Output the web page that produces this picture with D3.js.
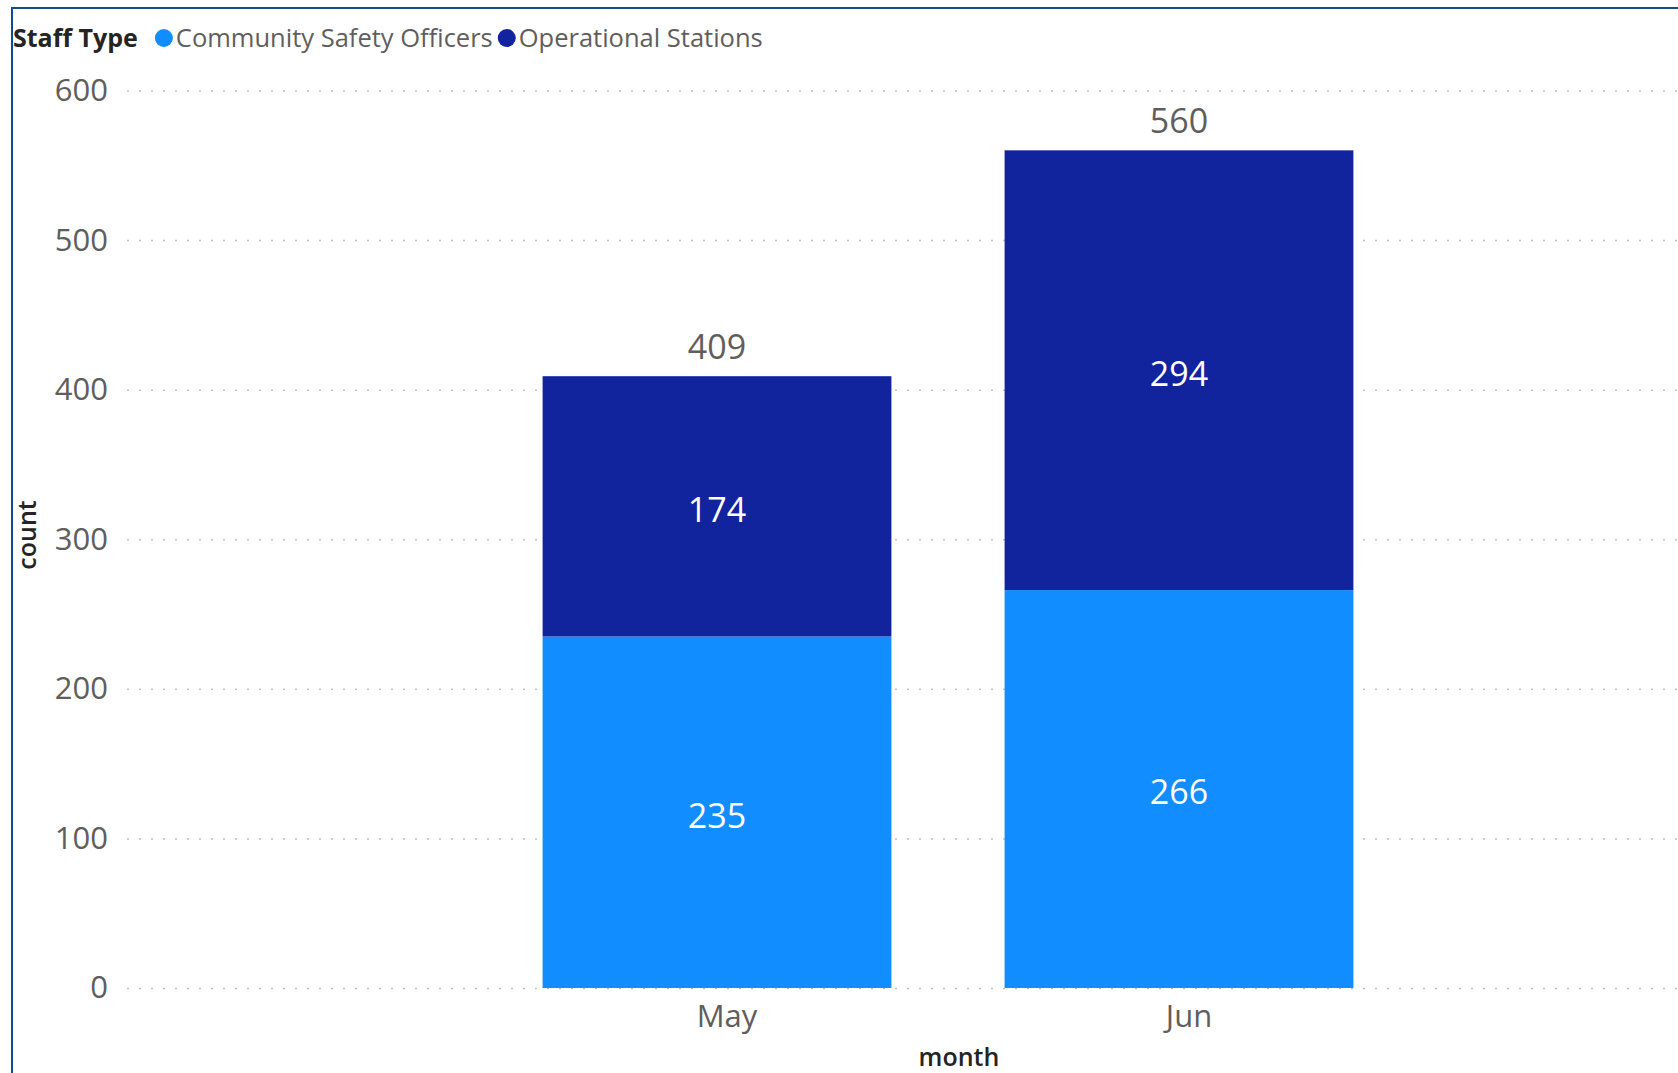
<!DOCTYPE html>
<html>
<head>
<meta charset="utf-8">
<script src="https://cdn.jsdelivr.net/npm/d3@7"></script>
<style>
  body { margin: 0; background: #fff; }
  text { font-family: 'Segoe UI', 'Open Sans', sans-serif; }
  .ejes .domain { display: none; }
  .ejes text { fill: #605e5c; font-size: 31px; }
</style>
</head>
<body>
<div id="graf"></div>
<script>
// datos
const months = ['May', 'Jun']
const staffTypes = ['Community Safety Officers', 'Operational Stations']
const csoCounts = [235, 266]
const opsCounts = [174, 294]
const yTicks = [0, 100, 200, 300, 400, 500, 600]
const colores = ['#118dff', '#12239e']

const anchoTotal = 1678
const altoTotal = 1073

const svg = d3.select('#graf')
  .append('svg')
  .attr('width', anchoTotal)
  .attr('height', altoTotal)

const margin = { top: 90.5, left: 127, right: 0, bottom: 85 }
const ancho = anchoTotal - margin.left - margin.right
const alto = altoTotal - margin.top - margin.bottom

// marco del visual
svg.append('path')
  .attr('d', `M12,${altoTotal} L12,8 L${anchoTotal},8`)
  .attr('fill', 'none')
  .attr('stroke', '#134c8b')
  .attr('stroke-width', 2)

const g = svg.append('g')
  .attr('transform', `translate(${margin.left}, ${margin.top})`)

const data = months.map((m, i) => ({
  month: m,
  [staffTypes[0]]: csoCounts[i],
  [staffTypes[1]]: opsCounts[i],
}))

const series = d3.stack().keys(staffTypes)(data)

const y = d3.scaleLinear()
  .domain([0, 600])
  .range([alto, 0])

const x = d3.scaleBand()
  .domain(months)
  .range([486 - margin.left, 1410 - margin.left])
  .paddingInner(0.245)
  .paddingOuter(0.1225)

const color = d3.scaleOrdinal()
  .domain(staffTypes)
  .range(colores)

// eje y con grilla punteada
const yAxisGroup = g.append('g')
  .attr('class', 'ejes')
  .call(
    d3.axisLeft(y)
      .tickValues(yTicks)
      .tickSize(-ancho)
      .tickPadding(19)
  )
yAxisGroup.selectAll('line')
  .attr('stroke', '#c0c0c0')
  .attr('stroke-width', 1.5)
  .attr('stroke-dasharray', '2,10')

// eje x
const xAxisGroup = g.append('g')
  .attr('class', 'ejes')
  .attr('transform', `translate(0, ${alto})`)
  .call(d3.axisBottom(x).tickSize(0).tickPadding(17))
xAxisGroup.selectAll('text')
  .attr('dx', 10)

// barras apiladas
const capas = g.selectAll('g.capa')
  .data(series)
  .enter()
  .append('g')
  .attr('class', 'capa')
  .attr('fill', d => color(d.key))

capas.selectAll('rect')
  .data(d => d)
  .enter()
  .append('rect')
  .attr('x', d => x(d.data.month))
  .attr('y', d => y(d[1]))
  .attr('width', x.bandwidth())
  .attr('height', d => y(d[0]) - y(d[1]))

capas.selectAll('text')
  .data(d => d)
  .enter()
  .append('text')
  .attr('x', d => x(d.data.month) + x.bandwidth() / 2)
  .attr('y', d => y((d[0] + d[1]) / 2))
  .attr('dy', '0.45em')
  .attr('text-anchor', 'middle')
  .attr('fill', '#fff')
  .attr('font-size', 34)
  .text(d => d[1] - d[0])

// totales
g.selectAll('text.total')
  .data(data)
  .enter()
  .append('text')
  .attr('class', 'total')
  .attr('x', d => x(d.month) + x.bandwidth() / 2)
  .attr('y', d => y(d[staffTypes[0]] + d[staffTypes[1]]) - 29)
  .attr('dy', '0.35em')
  .attr('text-anchor', 'middle')
  .attr('fill', '#605e5c')
  .attr('font-size', 34)
  .text(d => d[staffTypes[0]] + d[staffTypes[1]])

// titulos de ejes
svg.append('text')
  .attr('transform', 'translate(36, 535) rotate(-90)')
  .attr('text-anchor', 'middle')
  .attr('fill', '#252423')
  .attr('font-size', 25)
  .attr('font-weight', 600)
  .text('count')

svg.append('text')
  .attr('x', 959)
  .attr('y', 1066)
  .attr('text-anchor', 'middle')
  .attr('fill', '#252423')
  .attr('font-size', 25)
  .attr('font-weight', 600)
  .text('month')

// leyenda
const leyenda = svg.append('g')
  .attr('transform', 'translate(13, 38)')

const titulo = leyenda.append('text')
  .attr('dy', '0.35em')
  .attr('fill', '#252423')
  .attr('font-size', 25)
  .attr('font-weight', 700)
  .text('Staff Type')

let lx = titulo.node().getComputedTextLength() + 17
staffTypes.forEach(s => {
  leyenda.append('circle')
    .attr('cx', lx + 9)
    .attr('cy', 0)
    .attr('r', 9)
    .attr('fill', color(s))
  const t = leyenda.append('text')
    .attr('x', lx + 21)
    .attr('dy', '0.35em')
    .attr('fill', '#605e5c')
    .attr('font-size', 25.5)
    .text(s)
  lx += 21 + t.node().getComputedTextLength() + 5
})
</script>
</body>
</html>
